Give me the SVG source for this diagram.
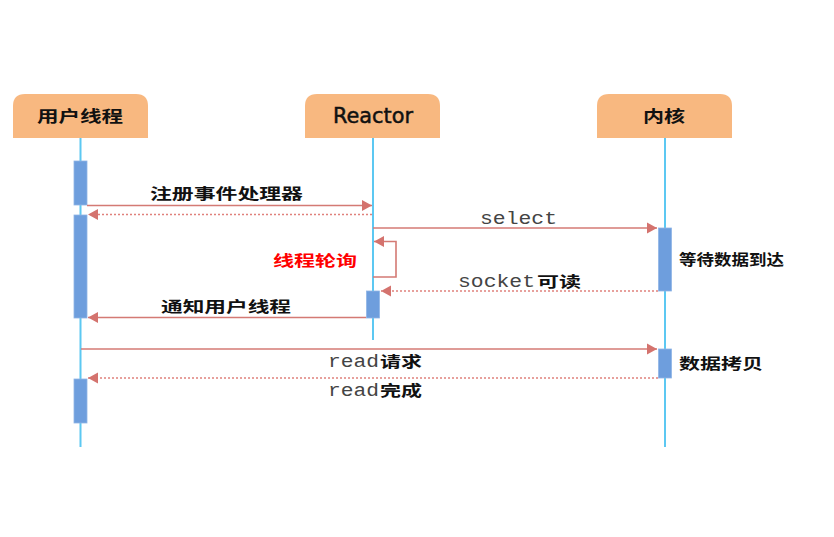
<svg xmlns="http://www.w3.org/2000/svg" width="834" height="537" viewBox="0 0 834 537">
<style>
.hdr{fill:#F8B880}
.life{stroke:#5CC8F2;stroke-width:2;fill:none}
.act{fill:#6E9EDD;stroke:#8FB5E6;stroke-width:0.8}
.msg{stroke:#D47A74;stroke-width:1.6;fill:none}
.ret{stroke:#E0817C;stroke-width:1.4;fill:none;stroke-dasharray:2 2}
.cn{font-family:"Noto Sans CJK SC","Noto Sans",sans-serif;font-weight:bold;font-size:15px;fill:#111}
.mono{font-family:"Liberation Mono",monospace;font-size:19px;fill:#444}
.ttl{font-family:"Noto Sans CJK SC","Noto Sans",sans-serif;font-weight:bold;font-size:16px;fill:#111}
</style>
<defs>
<marker id="ah" markerUnits="userSpaceOnUse" markerWidth="12" markerHeight="12" refX="10" refY="6" orient="auto">
<path d="M0,0.5 L10,6 L0,11.5 Z" fill="#D4736E"/>
</marker>
</defs>
<rect width="834" height="537" fill="#fff"/>
<g id="user">
<path class="hdr" d="M13,138 V106 Q13,94 25,94 H136 Q148,94 148,106 V138 Z"/>
<text class="ttl" x="37" y="122" textLength="86" lengthAdjust="spacingAndGlyphs">用户线程</text>
<line class="life" x1="80.5" y1="138" x2="80.5" y2="447"/>
<rect class="act" x="74" y="161" width="13" height="44"/>
<rect class="act" x="74" y="215" width="13" height="103"/>
<rect class="act" x="74" y="379" width="13" height="44"/>
</g>
<g id="reactor">
<path class="hdr" d="M305,138 V106 Q305,94 317,94 H428 Q440,94 440,106 V138 Z"/>
<text x="333" y="123" textLength="80" lengthAdjust="spacingAndGlyphs" font-family="'DejaVu Sans',sans-serif" font-size="21" fill="#111" stroke="#111" stroke-width="0.5">Reactor</text>
<line class="life" x1="373" y1="138" x2="373" y2="340"/>
<rect class="act" x="366.5" y="291" width="13" height="27"/>
</g>
<g id="kernel">
<path class="hdr" d="M597,138 V106 Q597,94 609,94 H720 Q732,94 732,106 V138 Z"/>
<text class="ttl" x="643" y="122" textLength="42" lengthAdjust="spacingAndGlyphs">内核</text>
<line class="life" x1="665" y1="138" x2="665" y2="447"/>
<rect class="act" x="658.5" y="228" width="13" height="63"/>
<rect class="act" x="658.5" y="349" width="13" height="29"/>
<text class="cn" x="679" y="265" textLength="105" lengthAdjust="spacingAndGlyphs">等待数据到达</text>
<text class="cn" x="679" y="369" textLength="84" lengthAdjust="spacingAndGlyphs">数据拷贝</text>
</g>
<g id="connectors">
<line class="msg" x1="87" y1="205.5" x2="372" y2="205.5" marker-end="url(#ah)"/>
<text class="cn" x="150" y="199" textLength="153" lengthAdjust="spacingAndGlyphs">注册事件处理器</text>
<line class="ret" x1="372" y1="214.5" x2="88" y2="214.5" marker-end="url(#ah)"/>
<line class="msg" x1="373" y1="228" x2="657" y2="228" marker-end="url(#ah)"/>
<text class="mono" x="480" y="224" textLength="77" lengthAdjust="spacingAndGlyphs">select</text>
<polyline class="msg" points="373,277 396,277 396,241.5 374,241.5" marker-end="url(#ah)"/>
<text class="cn" x="273" y="266" textLength="84" lengthAdjust="spacingAndGlyphs" style="fill:#FF0000">线程轮询</text>
<line class="ret" x1="658" y1="291" x2="381" y2="291" marker-end="url(#ah)"/>
<text class="mono" x="458" y="287" textLength="77" lengthAdjust="spacingAndGlyphs">socket</text>
<text class="cn" x="537" y="287" textLength="44" lengthAdjust="spacingAndGlyphs">可读</text>
<line class="msg" x1="366" y1="317.5" x2="88" y2="317.5" marker-end="url(#ah)"/>
<text class="cn" x="161" y="312" textLength="130" lengthAdjust="spacingAndGlyphs">通知用户线程</text>
<line class="msg" x1="81" y1="349" x2="657" y2="349" marker-end="url(#ah)"/>
<text class="mono" x="328" y="367" textLength="51" lengthAdjust="spacingAndGlyphs">read</text>
<text class="cn" x="380" y="367" textLength="42" lengthAdjust="spacingAndGlyphs">请求</text>
<line class="ret" x1="658" y1="378" x2="88" y2="378" marker-end="url(#ah)"/>
<text class="mono" x="328" y="396" textLength="51" lengthAdjust="spacingAndGlyphs">read</text>
<text class="cn" x="380" y="396" textLength="42" lengthAdjust="spacingAndGlyphs">完成</text>
</g>
</svg>
